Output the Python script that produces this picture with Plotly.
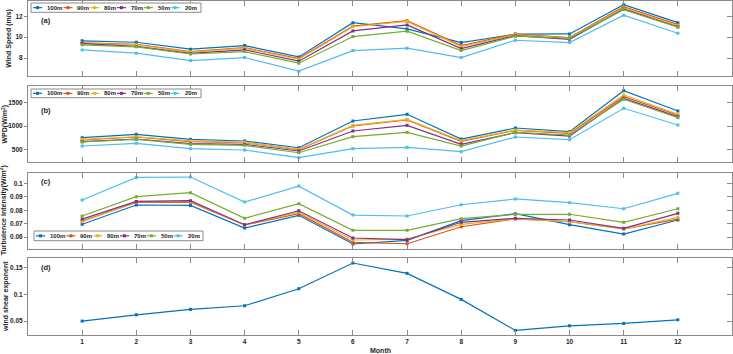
import plotly.graph_objects as go

months = list(range(1, 13))
heights = ["100m", "90m", "80m", "70m", "50m", "20m"]
colors = ["#0072BD", "#D95319", "#EDB120", "#7E2F8E", "#77AC30", "#4DBEEE"]

ws_100 = [9.65, 9.52, 8.86, 9.20, 8.12, 11.39, 10.79, 9.49, 10.29, 10.31, 13.10, 11.39]
ws_90 = [9.46, 9.33, 8.62, 9.00, 7.96, 11.05, 11.58, 9.20, 10.30, 9.96, 12.91, 11.20]
ws_80 = [9.42, 9.28, 8.58, 8.95, 7.90, 11.00, 11.50, 9.10, 10.25, 9.92, 12.82, 11.12]
ws_70 = [9.39, 9.12, 8.45, 8.80, 7.71, 10.60, 11.17, 8.91, 10.15, 9.80, 12.70, 11.00]
ws_50 = [9.27, 9.08, 8.40, 8.63, 7.52, 10.06, 10.57, 8.72, 10.10, 9.90, 12.63, 10.95]
ws_20 = [8.79, 8.48, 7.77, 8.06, 6.76, 8.72, 8.95, 8.06, 9.71, 9.49, 12.10, 10.38]

wpd_100 = [749, 822, 714, 678, 534, 1107, 1251, 721, 957, 878, 1758, 1322]
wpd_90 = [700, 764, 663, 642, 492, 1000, 1129, 672, 908, 843, 1629, 1236]
wpd_80 = [714, 770, 680, 650, 500, 1014, 1143, 685, 912, 857, 1665, 1251]
wpd_70 = [663, 721, 620, 607, 464, 893, 1015, 607, 857, 785, 1594, 1200]
wpd_50 = [657, 715, 607, 586, 427, 771, 865, 571, 865, 807, 1573, 1178]
wpd_20 = [571, 629, 513, 485, 320, 513, 543, 449, 764, 706, 1380, 1021]

ti_100 = [0.0695, 0.0839, 0.0836, 0.0667, 0.0762, 0.0548, 0.0575, 0.0722, 0.0774, 0.0692, 0.0622, 0.0727]
ti_90 = [0.0720, 0.0859, 0.0859, 0.0690, 0.0774, 0.0560, 0.0550, 0.0677, 0.0735, 0.0714, 0.0660, 0.0734]
ti_80 = [0.0714, 0.0862, 0.0865, 0.0690, 0.0786, 0.0578, 0.0585, 0.0695, 0.0735, 0.0714, 0.0660, 0.0747]
ti_70 = [0.0734, 0.0866, 0.0871, 0.0692, 0.0796, 0.0593, 0.0580, 0.0710, 0.0740, 0.0727, 0.0665, 0.0777]
ti_50 = [0.0757, 0.0901, 0.0931, 0.0740, 0.0849, 0.0650, 0.0650, 0.0737, 0.0769, 0.0770, 0.0710, 0.0811]
ti_20 = [0.0876, 0.1045, 0.1048, 0.0861, 0.0980, 0.0764, 0.0757, 0.0841, 0.0884, 0.0856, 0.0811, 0.0926]

shear = [0.050, 0.0618, 0.0719, 0.0787, 0.1105, 0.1586, 0.1393, 0.0906, 0.0326, 0.0412, 0.0456, 0.0524]

ws_series = [ws_100, ws_90, ws_80, ws_70, ws_50, ws_20]
wpd_series = [wpd_100, wpd_90, wpd_80, wpd_70, wpd_50, wpd_20]
ti_series = [ti_100, ti_90, ti_80, ti_70, ti_50, ti_20]

W, H = 733, 354
ML, MR, MT, MB = 28, 1, 0, 19
PW = W - ML - MR
PH = H - MT - MB


def px(x):
    return (x - ML) / PW


def py(y):
    return 1 - (y - MT) / PH


panels = [  # pixel top, bottom
    (0.5, 76),
    (86, 162),
    (172.7, 248.7),
    (258, 335),
]
yranges = [[6.3, 13.5], [228, 1858], [0.0513, 0.108], [0.024, 0.168]]
ytickvals = [[8, 10, 12], [500, 1000, 1500], [0.06, 0.07, 0.08, 0.09, 0.1], [0.05, 0.1, 0.15]]
yticktext = [["8", "10", "12"], ["500", "1000", "1500"],
             ["0.06", "0.07", "0.08", "0.09", "0.1"], ["0.05", "0.1", "0.15"]]

fig = go.Figure()

axis_color = "#8a8a8a"
txt_color = "#262626"
tick_font = dict(family="Arial", size=6.5, color=txt_color, weight="bold")

for p, series in enumerate([ws_series, wpd_series, ti_series]):
    sfx = "" if p == 0 else str(p + 1)
    for name, vals, col in zip(heights, series, colors):
        fig.add_trace(go.Scatter(
            x=months, y=vals, mode="lines+markers", name=name,
            line=dict(color=col, width=1.2),
            marker=dict(symbol="square", size=3, color=col),
            xaxis="x" + sfx, yaxis="y" + sfx, showlegend=False))

fig.add_trace(go.Scatter(
    x=months, y=shear, mode="lines+markers", name="shear",
    line=dict(color=colors[0], width=1.2),
    marker=dict(symbol="square", size=3, color=colors[0]),
    xaxis="x4", yaxis="y4", showlegend=False))

# dummy traces for right-side tick axes
for i in range(4):
    sfx = "" if i == 0 else str(i + 1)
    fig.add_trace(go.Scatter(x=[None], y=[None], xaxis="x" + sfx, yaxis="y" + str(i + 5),
                             showlegend=False, hoverinfo="skip"))

layout = dict(
    width=W, height=H,
    margin=dict(l=ML, r=MR, t=MT, b=MB, pad=0),
    paper_bgcolor="white", plot_bgcolor="white",
    showlegend=False,
)

for i, (top, bot) in enumerate(panels):
    sfx = "" if i == 0 else str(i + 1)
    dom = [py(bot), py(top)]
    layout["xaxis" + sfx] = dict(
        domain=[0, 1], anchor="y" + sfx, range=[0, 13],
        tickvals=months, ticktext=[str(m) for m in months],
        ticks="inside", ticklen=5, tickcolor=axis_color, tickwidth=1,
        showline=True, linecolor=axis_color, linewidth=1, mirror="ticks",
        showgrid=False, zeroline=False,
        showticklabels=(i == 3), tickfont=tick_font,
    )
    layout["yaxis" + sfx] = dict(
        domain=dom, anchor="x" + sfx, range=yranges[i],
        tickvals=ytickvals[i], ticktext=yticktext[i],
        ticks="outside", ticklen=3, tickcolor=axis_color, tickwidth=1,
        showline=True, linecolor=axis_color, linewidth=1, mirror=True,
        showgrid=False, zeroline=False, tickfont=tick_font,
    )
    layout["yaxis" + str(i + 5)] = dict(
        overlaying="y" + sfx, side="right", anchor="x" + sfx, range=yranges[i],
        tickvals=ytickvals[i], ticks="inside", ticklen=5, tickcolor=axis_color,
        showticklabels=False, showline=False, showgrid=False, zeroline=False,
    )

fig.update_layout(**layout)

shapes = []
annotations = []

# manual legends (a), (b), (c)
legend_font = dict(family="Arial", size=6, color=txt_color, weight="bold")
legend_boxes = [(31, 3, 201, 12.3), (31, 89, 201, 97.7), (34, 231, 203, 240.7)]
for (bx0, by0, bx1, by1) in legend_boxes:
    shapes.append(dict(type="rect", xref="paper", yref="paper",
                       x0=px(bx0), x1=px(bx1), y0=py(by1), y1=py(by0),
                       line=dict(color=axis_color, width=1), fillcolor="white", layer="above"))
    cy = (by0 + by1) / 2
    xs = bx0 + 2
    for name, col in zip(heights, colors):
        shapes.append(dict(type="line", xref="paper", yref="paper",
                           x0=px(xs), x1=px(xs + 9), y0=py(cy), y1=py(cy),
                           line=dict(color=col, width=1.2), layer="above"))
        mx = xs + 4.5
        shapes.append(dict(type="rect", xref="paper", yref="paper",
                           x0=px(mx - 1.5), x1=px(mx + 1.5), y0=py(cy + 1.5), y1=py(cy - 1.5),
                           line=dict(width=0), fillcolor=col, layer="above"))
        annotations.append(dict(text=name, xref="paper", yref="paper",
                                x=px(xs + 12), y=py(cy), xanchor="left", yanchor="middle",
                                showarrow=False, font=legend_font))
        xs += 9 + 4 + len(name) * 3.6 + 3

# panel labels
for lab, yc in zip(["(a)", "(b)", "(c)", "(d)"], [21, 110, 181.7, 267.7]):
    annotations.append(dict(text=lab, xref="paper", yref="paper", x=px(39), y=py(yc),
                            xanchor="left", yanchor="middle", showarrow=False,
                            font=dict(family="Arial", size=7.5, color=txt_color, weight="bold")))

# y titles
ytitles = ["Wind Speed (m/s)", "WPD(W/m<sup>2</sup>)", "Turbulence Intensity(W/m<sup>2</sup>)",
           "wind shear exponent"]
ytitle_x = [9.5, 4.5, 3.5, 5.5]
for t, xc, (top, bot) in zip(ytitles, ytitle_x, panels):
    annotations.append(dict(text=t, xref="paper", yref="paper", x=px(xc), y=py((top + bot) / 2),
                            xanchor="center", yanchor="middle", textangle=-90, showarrow=False,
                            font=dict(family="Arial", size=7, color=txt_color, weight="bold")))

annotations.append(dict(text="Month", xref="paper", yref="paper", x=px(380), y=py(350.5),
                        xanchor="center", yanchor="middle", showarrow=False,
                        font=dict(family="Arial", size=7, color=txt_color, weight="bold")))

fig.update_layout(shapes=shapes, annotations=annotations)

fig.write_html("out.html")
